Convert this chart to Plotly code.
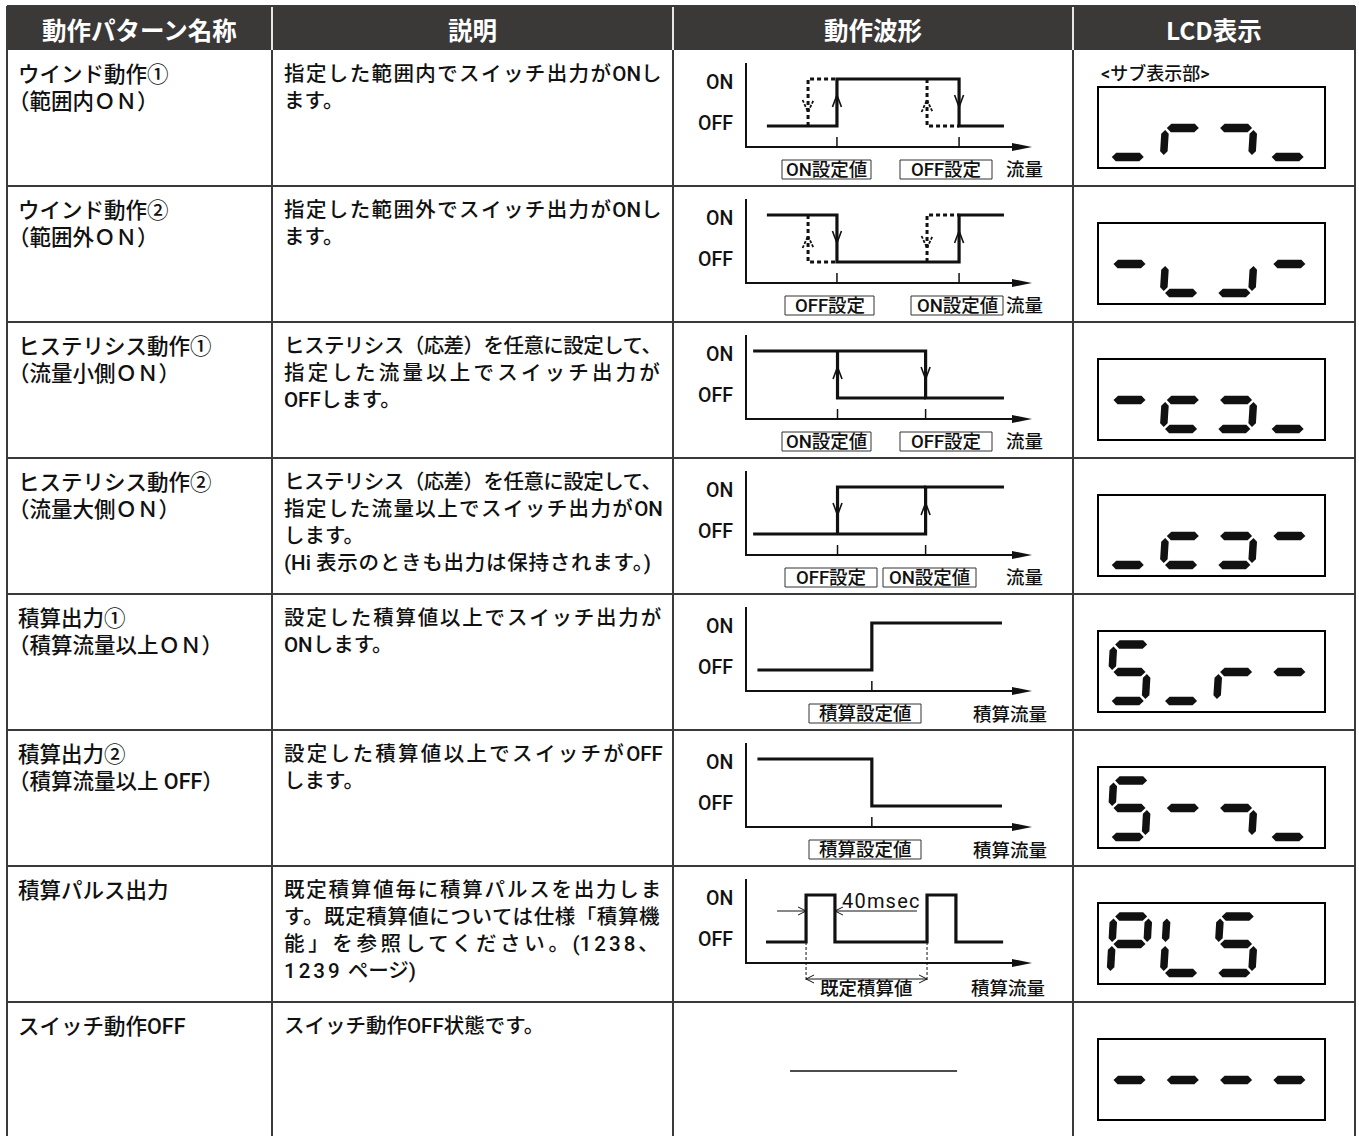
import plotly.graph_objects as go

FIG_W, FIG_H = 1359, 1136

# ------------------------------------------------------------------ data
HEADERS = ["動作パターン名称", "説明", "動作波形", "LCD表示"]

PATTERN_NAMES = [
    ["ウインド動作①", "（範囲内ＯＮ）"],
    ["ウインド動作②", "（範囲外ＯＮ）"],
    ["ヒステリシス動作①", "（流量小側ＯＮ）"],
    ["ヒステリシス動作②", "（流量大側ＯＮ）"],
    ["積算出力①", "（積算流量以上ＯＮ）"],
    ["積算出力②", "（積算流量以上 OFF）"],
    ["積算パルス出力"],
    ["スイッチ動作OFF"],
]

# each description = list of paragraphs, each paragraph = list of lines
DESCRIPTIONS = [
    [["指定した範囲内でスイッチ出力がONし", "ます。"]],
    [["指定した範囲外でスイッチ出力がONし", "ます。"]],
    [["ヒステリシス（応差）を任意に設定して、", "指定した流量以上でスイッチ出力が", "OFFします。"]],
    [["ヒステリシス（応差）を任意に設定して、", "指定した流量以上でスイッチ出力がON", "します。"],
     ["(Hi 表示のときも出力は保持されます。)"]],
    [["設定した積算値以上でスイッチ出力が", "ONします。"]],
    [["設定した積算値以上でスイッチがOFF", "します。"]],
    [["既定積算値毎に積算パルスを出力しま", "す。既定積算値については仕様「積算機",
      "能」を参照してください。(1238、", "1239 ページ)"]],
    [["スイッチ動作OFF状態です。"]],
]

LEVEL_LABELS = ["ON", "OFF"]

# Waveforms: flow axis 0 (vertical axis) .. 10 (arrow tip); state 1 = ON, 0 = OFF
WAVE_SOLID = [
    [[(0.73, 0), (3.18, 0), (3.18, 1), (7.45, 1), (7.45, 0), (9.02, 0)]],
    [[(0.73, 1), (3.18, 1), (3.18, 0), (7.45, 0), (7.45, 1), (9.02, 1)]],
    [[(0.25, 1), (6.28, 1), (6.28, 0), (9.02, 0)], [(3.20, 1), (3.20, 0), (6.28, 0)]],
    [[(0.25, 0), (6.28, 0), (6.28, 1), (9.02, 1)], [(3.20, 0), (3.20, 1), (6.28, 1)]],
    [[(0.40, 0), (4.40, 0), (4.40, 1), (8.95, 1)]],
    [[(0.40, 1), (4.40, 1), (4.40, 0), (8.95, 0)]],
    [[(0.70, 0), (2.10, 0), (2.10, 1), (3.11, 1), (3.11, 0), (6.33, 0), (6.33, 1),
      (7.34, 1), (7.34, 0), (8.99, 0)]],
    [],
]
WAVE_DOTTED = [
    [[(2.17, 0), (2.17, 1), (3.18, 1)], [(6.33, 1), (6.33, 0), (7.45, 0)]],
    [[(2.17, 1), (2.17, 0), (3.18, 0)], [(6.33, 0), (6.33, 1), (7.45, 1)]],
    [], [], [], [], [], [],
]
# (flow position, direction +1 up / -1 down, dotted?)
WAVE_ARROWS = [
    [(3.18, 1, False), (7.45, -1, False), (2.17, -1, True), (6.33, 1, True)],
    [(3.18, -1, False), (7.45, 1, False), (2.17, 1, True), (6.33, -1, True)],
    [(3.20, 1, False), (6.28, -1, False)],
    [(3.20, -1, False), (6.28, 1, False)],
    [], [], [], [],
]
WAVE_TICKS = [[3.18, 7.45], [3.18, 7.45], [3.20, 6.28], [3.20, 6.28], [4.40], [4.40], [], []]
SETPOINT_LABELS = [
    ["ON設定値", "OFF設定"], ["OFF設定", "ON設定値"], ["ON設定値", "OFF設定"],
    ["OFF設定", "ON設定値"], ["積算設定値"], ["積算設定値"], [], [],
]
FLOW_UNITS = ["流量", "流量", "流量", "流量", "積算流量", "積算流量", "積算流量", None]
PULSE_WIDTH_LABEL = "40msec"
PULSE_PERIOD_LABEL = "既定積算値"
PULSE_EDGES = (2.10, 3.11, 6.33)       # pulse start, pulse end, next pulse start
OFF_LINE_SPAN = (1.54, 7.38)           # row "スイッチ動作OFF"

LCD_CAPTION = "<サブ表示部>"
# 7-segment letters per digit (a top, b up-right, c low-right, d bottom, e low-left, f up-left, g middle)
LCD_SEGMENTS = [
    ["d", "eg", "cg", "d"],
    ["g", "de", "cd", "g"],
    ["g", "deg", "cdg", "d"],
    ["d", "deg", "cdg", "g"],
    ["acdfg", "d", "eg", "g"],
    ["acdfg", "g", "cg", "d"],
    ["abefg", "def", "acdfg", ""],
    ["g", "g", "g", "g"],
]

# ------------------------------------------------------------------ layout constants
COL_X = [7, 272, 673, 1073, 1355]
TABLE_TOP, HEAD_BOTTOM, ROW_H = 6, 50, 136
HEAD_BG = "#3b3838"
GRID = "#3a3a3a"
INK = "#111111"
BODY_FONT = "Roboto, Noto Sans CJK JP, sans-serif"
BODY_W = 500
NAME_SIZE, DESC_SIZE = 21.5, 20.5
DESC_LEFT = COL_X[1] + 11
DESC_RIGHT = 662
DIGIT_LS = 3.0

AXIS_DX, FLOW_UNIT = 73, 28.6
Y_ON, Y_OFF, Y_AXIS, Y_AXIS_TOP = 29, 76, 97, 13

SETPOINT_BOXES = [
    [(782, 871), (900, 992)],
    [(785, 874), (911, 1003)],
    [(782, 871), (900, 992)],
    [(785, 877), (883, 976)],
    [(809, 921)],
    [(809, 921)],
    [], [],
]
UNIT_POS = [(1024, 120), (1024, 120), (1024, 120), (1024, 120), (1010, 121), (1010, 121), (1008, 123), None]

fig = go.Figure()
shapes = []
annotations = []


def row_top(i):
    return HEAD_BOTTOM + ROW_H * i


def fx(u):
    return COL_X[2] + AXIS_DX + u * FLOW_UNIT


def fy(top, state):
    return top + (Y_ON if state else Y_OFF)


def add_text(x, y, text, size, color=INK, xanchor="left", weight=BODY_W, family=BODY_FONT):
    annotations.append(dict(x=x, y=y, xref="x", yref="y", text=text, showarrow=False,
                            xanchor=xanchor, yanchor="middle", borderpad=0,
                            font=dict(family=family, size=size, color=color, weight=weight)))


def add_line(xs, ys, width=1.0, dash=None, color=INK):
    fig.add_trace(go.Scatter(x=xs, y=ys, mode="lines", hoverinfo="skip", showlegend=False,
                             line=dict(color=color, width=width, dash=dash)))


def add_poly(points, color=INK):
    path = "M " + " L ".join(f"{x:.2f},{y:.2f}" for x, y in points) + " Z"
    shapes.append(dict(type="path", path=path, xref="x", yref="y", fillcolor=color,
                       line=dict(width=0), layer="above"))


# approximate advance widths (em) of Roboto glyphs
LAT_W = {"O": 0.688, "N": 0.713, "F": 0.553, "H": 0.713, "i": 0.243, " ": 0.248,
         "(": 0.342, ")": 0.348}


def kind(ch):
    if ord(ch) >= 128:
        return "w"
    return "d" if ch.isdigit() else "n"


def runs_of(line):
    out = []
    for ch in line:
        k = kind(ch)
        if out and out[-1][0] == k:
            out[-1][1] += ch
        else:
            out.append([k, ch])
    return out


def rich(line, size, justify=False):
    runs = runs_of(line)
    nat = 0.0
    n_wide = 0
    for k, t in runs:
        if k == "w":
            nat += len(t) * size
            n_wide += len(t)
        elif k == "d":
            nat += len(t) * (0.561 * size + DIGIT_LS)
        else:
            nat += sum(LAT_W.get(c, 0.56) for c in t) * size
    target = DESC_RIGHT - DESC_LEFT
    ls = 0.0
    if n_wide and (justify or nat > 0.9 * target):
        ls = (target - nat) / n_wide
    parts = []
    for k, t in runs:
        if k == "w" and abs(ls) > 0.05:
            parts.append(f'<span style="letter-spacing:{ls:.2f}px">{t}</span>')
        elif k == "d":
            parts.append(f'<span style="letter-spacing:{DIGIT_LS}px">{t}</span>')
        else:
            parts.append(t)
    return "".join(parts)


def line_x(x, line, size):
    # full-width opening bracket carries its blank half on the left
    return x - 0.45 * size if line.startswith("（") else x


# ------------------------------------------------------------------ table
shapes.append(dict(type="rect", x0=COL_X[0], x1=COL_X[-1], y0=TABLE_TOP, y1=HEAD_BOTTOM,
                   xref="x", yref="y", fillcolor=HEAD_BG, line=dict(width=0), layer="below"))
for j, h in enumerate(HEADERS):
    add_text((COL_X[j] + COL_X[j + 1]) / 2, (TABLE_TOP + HEAD_BOTTOM) / 2 + 1, h, 24.5,
             color="white", xanchor="center", weight="bold",
             family="Noto Sans CJK JP, Liberation Sans, sans-serif")

n_rows = len(PATTERN_NAMES)
for j, x in enumerate(COL_X):
    inner = 0 < j < len(COL_X) - 1
    if inner:
        shapes.append(dict(type="line", x0=x, x1=x, y0=TABLE_TOP, y1=HEAD_BOTTOM, xref="x", yref="y",
                           line=dict(color="#e6e6e6", width=2)))
    shapes.append(dict(type="line", x0=x, x1=x, y0=HEAD_BOTTOM if inner else TABLE_TOP, y1=FIG_H + 5,
                       xref="x", yref="y", line=dict(color=GRID, width=2)))
shapes.append(dict(type="line", x0=COL_X[0], x1=COL_X[-1], y0=TABLE_TOP, y1=TABLE_TOP,
                   xref="x", yref="y", line=dict(color=GRID, width=2)))
for i in range(1, n_rows):
    y = row_top(i)
    shapes.append(dict(type="line", x0=COL_X[0], x1=COL_X[-1], y0=y, y1=y, xref="x", yref="y",
                       line=dict(color=GRID, width=2)))

LINE_STEP = 27
for i in range(n_rows):
    top = row_top(i)
    for k, line in enumerate(PATTERN_NAMES[i]):
        add_text(line_x(COL_X[0] + 10, line, NAME_SIZE), top + 24 + LINE_STEP * k,
                 rich(line, NAME_SIZE), NAME_SIZE)
    k = 0
    for para in DESCRIPTIONS[i]:
        for m, line in enumerate(para):
            txt = rich(line, DESC_SIZE, justify=(m < len(para) - 1))
            add_text(DESC_LEFT, top + 24 + LINE_STEP * k, txt, DESC_SIZE)
            k += 1

# ------------------------------------------------------------------ waveforms
ax_x = COL_X[2] + AXIS_DX
tip_x = fx(10)
for i in range(n_rows):
    top = row_top(i)
    if FLOW_UNITS[i] is None:
        add_line([fx(OFF_LINE_SPAN[0]), fx(OFF_LINE_SPAN[1])], [top + 69, top + 69], width=1.5)
        continue
    # axes
    add_line([ax_x, ax_x, tip_x - 18], [top + Y_AXIS_TOP, top + Y_AXIS, top + Y_AXIS], width=2)
    add_poly([(tip_x - 20, top + Y_AXIS - 4), (tip_x, top + Y_AXIS), (tip_x - 20, top + Y_AXIS + 4)])
    add_text(ax_x - 12, top + 32, LEVEL_LABELS[0], 19.5, xanchor="right")
    add_text(ax_x - 12, top + 73, LEVEL_LABELS[1], 19.5, xanchor="right")
    for u in WAVE_TICKS[i]:
        add_line([fx(u), fx(u)], [top + Y_AXIS - 10, top + Y_AXIS], width=1.5)
    for poly in WAVE_DOTTED[i]:
        add_line([fx(u) for u, s in poly], [fy(top, s) for u, s in poly], width=3, dash="4px,3px")
    for poly in WAVE_SOLID[i]:
        add_line([fx(u) for u, s in poly], [fy(top, s) for u, s in poly], width=3.2)
    for u, d, dotted in WAVE_ARROWS[i]:
        x = fx(u)
        y0, y1 = (top + 50, top + 62) if dotted else (top + 45, top + 57)
        apex, arms = (y0, y1) if d > 0 else (y1, y0)
        hw = 5.5 if dotted else 4.5
        add_line([x - hw, x, x + hw], [arms, apex, arms], width=1.8 if dotted else 1.6,
                 dash="3px,1.5px" if dotted else None)
    for lab, (bx0, bx1) in zip(SETPOINT_LABELS[i], SETPOINT_BOXES[i]):
        shapes.append(dict(type="rect", x0=bx0, x1=bx1, y0=top + 110, y1=top + 129, xref="x", yref="y",
                           line=dict(color="#333333", width=1), fillcolor="rgba(0,0,0,0)"))
        add_text((bx0 + bx1) / 2, top + 120, lab, 18.5, xanchor="center")
    ux, uy = UNIT_POS[i]
    add_text(ux, top + uy, FLOW_UNITS[i], 18.5, xanchor="center")

# pulse-output annotations (row 7)
top = row_top(6)
p0, p1, p2 = (fx(u) for u in PULSE_EDGES)
ydim = top + 45
add_line([p0 - 29, p0], [ydim, ydim], width=1)
add_line([p0 - 8, p0, p0 - 8], [ydim - 4, ydim, ydim + 4], width=1)
add_line([p1, p1 + 82], [ydim, ydim], width=1)
add_line([p1 + 8, p1, p1 + 8], [ydim - 4, ydim, ydim + 4], width=1)
add_text(p1 + 6, top + 35, f'<span style="letter-spacing:1.2px">{PULSE_WIDTH_LABEL}</span>', 20,
         xanchor="left", weight=400)
for px in (p0, p2):
    add_line([px, px], [top + Y_OFF, top + 116], width=1, dash="3px,2px")
yd = top + 113
add_line([p0, p2], [yd, yd], width=1)
add_line([p0 + 8, p0, p0 + 8], [yd - 4, yd, yd + 4], width=1)
add_line([p2 - 8, p2, p2 - 8], [yd - 4, yd, yd + 4], width=1)
add_text((p0 + p2) / 2, top + 123, PULSE_PERIOD_LABEL, 18.5, xanchor="center")

# ------------------------------------------------------------------ LCD
BOX_X0, BOX_X1, BOX_Y0, BOX_Y1 = 1098, 1325, 37, 118
DIG_X0, DIG_PITCH, DIG_W = 14, 53.3, 35
SEG_A, SEG_G, SEG_D = 13.5, 41, 70
T_H, T_V, SHEAR = 8.5, 7.5, 0.06


def seg_points(seg, xl, yt):
    xr = xl + DIG_W
    if seg in "agd":
        yc = {"a": SEG_A, "g": SEG_G, "d": SEG_D}[seg]
        xa, xb, h = xl + 1.5, xr - 1.5, T_H / 2
        pts = [(xa, yc), (xa + h, yc - h), (xb - h, yc - h), (xb, yc), (xb - h, yc + h), (xa + h, yc + h)]
    else:
        xc = xl if seg in "ef" else xr
        ya, yb = (SEG_A + 2, SEG_G - 2) if seg in "fb" else (SEG_G + 2, SEG_D - 2)
        h = T_V / 2
        pts = [(xc, ya), (xc + h, ya + h), (xc + h, yb - h), (xc, yb), (xc - h, yb - h), (xc - h, ya + h)]
    return [(x + SHEAR * (SEG_G - y), yt + y) for x, y in pts]


for i in range(n_rows):
    top = row_top(i)
    shapes.append(dict(type="rect", x0=BOX_X0, x1=BOX_X1, y0=top + BOX_Y0, y1=top + BOX_Y1,
                       xref="x", yref="y", line=dict(color="black", width=2), fillcolor="rgba(0,0,0,0)"))
    if i == 0:
        add_text(BOX_X0 + 2, top + 23, LCD_CAPTION, 18)
    for d, segs in enumerate(LCD_SEGMENTS[i]):
        xl = BOX_X0 + DIG_X0 + DIG_PITCH * d
        for s in segs:
            add_poly(seg_points(s, xl, top + BOX_Y0))

fig.update_layout(
    width=FIG_W, height=FIG_H, margin=dict(l=0, r=0, t=0, b=0),
    paper_bgcolor="white", plot_bgcolor="white",
    xaxis=dict(range=[0, FIG_W], visible=False, fixedrange=True),
    yaxis=dict(range=[FIG_H, 0], visible=False, fixedrange=True),
    shapes=shapes, annotations=annotations, showlegend=False,
)
fig.write_html("out.html", config={"displayModeBar": False},
               post_script="document.body.style.margin='0';document.body.style.overflow='hidden';")
